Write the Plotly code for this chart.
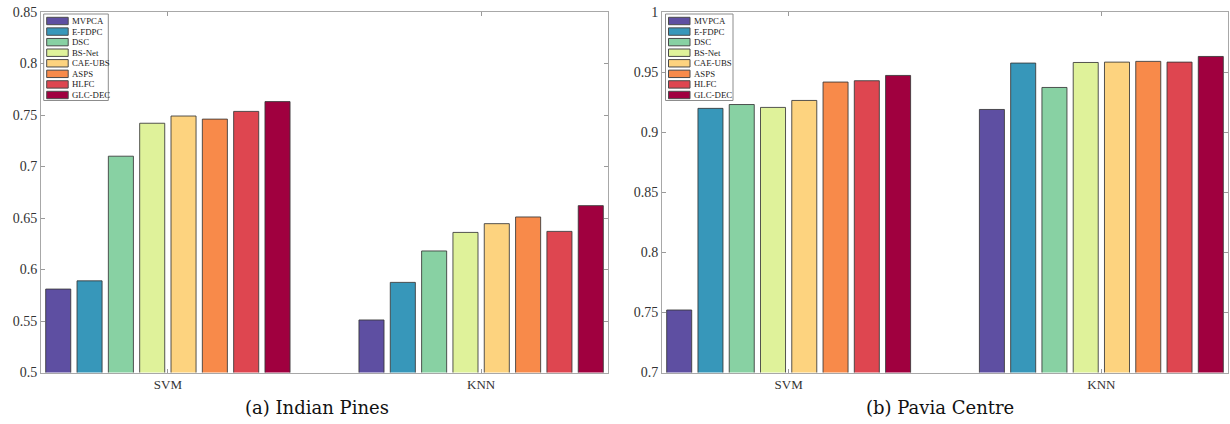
import plotly.graph_objects as go
from plotly.subplots import make_subplots

# ---------------- data ----------------
methods = ["MVPCA", "E-FDPC", "DSC", "BS-Net", "CAE-UBS", "ASPS", "HLFC", "GLC-DEC"]
classifiers = ["SVM", "KNN"]
colors = ["#5E4FA2", "#3797BA", "#88D1A3", "#DFF29A", "#FDD37F", "#F88A4A", "#DE4650", "#A0003F"]

indian_svm = [0.581, 0.589, 0.710, 0.742, 0.749, 0.746, 0.7535, 0.763]
indian_knn = [0.551, 0.5875, 0.618, 0.636, 0.6445, 0.651, 0.637, 0.662]
pavia_svm = [0.752, 0.9198, 0.923, 0.9206, 0.9264, 0.9417, 0.9428, 0.9472]
pavia_knn = [0.9189, 0.9575, 0.9372, 0.958, 0.9583, 0.9589, 0.9583, 0.963]

indian_ticks = [0.5, 0.55, 0.6, 0.65, 0.7, 0.75, 0.8, 0.85]
indian_ticktext = ["0.5", "0.55", "0.6", "0.65", "0.7", "0.75", "0.8", "0.85"]
pavia_ticks = [0.7, 0.75, 0.8, 0.85, 0.9, 0.95, 1.0]
pavia_ticktext = ["0.7", "0.75", "0.8", "0.85", "0.9", "0.95", "1"]

captions = ["(a) Indian Pines", "(b) Pavia Centre"]

# ---------------- figure ----------------
W, H = 1230, 424
fig = make_subplots(rows=1, cols=2)

panels = [(indian_svm, indian_knn), (pavia_svm, pavia_knn)]
for p, (svm_vals, knn_vals) in enumerate(panels):
    for i, m in enumerate(methods):
        fig.add_trace(
            go.Bar(
                x=classifiers,
                y=[svm_vals[i], knn_vals[i]],
                name=m,
                marker=dict(color=colors[i], line=dict(color="rgba(55,55,55,0.85)", width=1)),
                showlegend=False,
            ),
            row=1, col=p + 1,
        )


def px_x(v):
    return v / W


def px_y(v):
    return 1 - v / H


axis_common = dict(
    showline=True, linecolor="#A8A8A8", linewidth=1, mirror="ticks",
    ticks="inside", ticklen=4, tickcolor="#9A9A9A", showgrid=False, zeroline=False,
    automargin=False, ticklabeloverflow="allow",
)
ydom = [px_y(372.5), px_y(12)]
fig.update_layout(
    width=W, height=H,
    margin=dict(l=0, r=0, t=0, b=0),
    paper_bgcolor="white", plot_bgcolor="white",
    barmode="group", bargap=0.2, bargroupgap=0.2,
    showlegend=False,
    font=dict(family="Liberation Serif", color="#333333"),
    xaxis=dict(domain=[px_x(41), px_x(608)], type="category", range=[-0.405, 1.405],
               tickfont=dict(size=13, family="Liberation Serif", color="#333333"), **axis_common),
    xaxis2=dict(domain=[px_x(662), px_x(1228)], type="category", range=[-0.405, 1.405],
                tickfont=dict(size=13, family="Liberation Serif", color="#333333"), **axis_common),
    yaxis=dict(domain=ydom, range=[0.5, 0.85], tickvals=indian_ticks, ticktext=indian_ticktext,
               tickfont=dict(size=14, family="Liberation Serif", color="#333333"), **axis_common),
    yaxis2=dict(domain=ydom, range=[0.7, 1.0], tickvals=pavia_ticks, ticktext=pavia_ticktext,
                tickfont=dict(size=14, family="Liberation Serif", color="#333333"), **axis_common),
)

# ---------------- custom legends (one per panel) ----------------
shapes = []
annotations = []
legend_boxes = [(43.7, 14, 108.3, 100.5), (665.5, 14, 733, 100.5)]
for (bx0, by0, bx1, by1) in legend_boxes:
    shapes.append(dict(type="rect", xref="paper", yref="paper",
                       x0=px_x(bx0), x1=px_x(bx1), y0=px_y(by1), y1=px_y(by0),
                       line=dict(color="#8C8C8C", width=1), fillcolor="white", layer="above"))
    for i, m in enumerate(methods):
        cy = 21 + i * 10.57
        sx0 = bx0 + 3
        sx1 = sx0 + 21.5
        shapes.append(dict(type="rect", xref="paper", yref="paper",
                           x0=px_x(sx0), x1=px_x(sx1), y0=px_y(cy + 3.7), y1=px_y(cy - 3.7),
                           line=dict(color="#4A4A4A", width=1), fillcolor=colors[i], layer="above"))
        annotations.append(dict(text=m, xref="paper", yref="paper", x=px_x(sx1 + 1.5), y=px_y(cy),
                                xanchor="left", yanchor="middle", showarrow=False,
                                font=dict(family="Liberation Serif", size=8.8, color="#222222")))

caption_x = [317, 940]
for cx, txt in zip(caption_x, captions):
    annotations.append(dict(text=txt, xref="paper", yref="paper", x=px_x(cx), y=px_y(407),
                            xanchor="center", yanchor="middle", showarrow=False,
                            font=dict(family="DejaVu Serif", size=18, color="#111111")))

fig.update_layout(shapes=shapes, annotations=annotations)
# remove the default 8px page margin so the figure fills the window exactly
fig.write_html("out.html",
               config={"displayModeBar": False},
               post_script="document.body.style.margin='0px';document.body.style.overflow='hidden';")
